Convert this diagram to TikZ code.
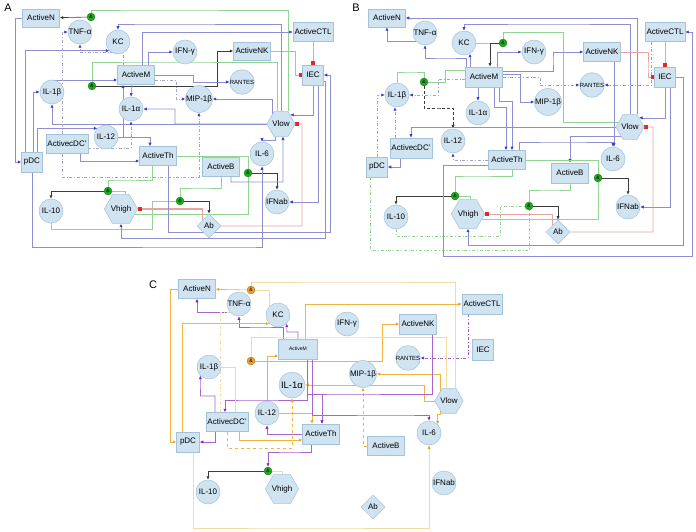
\documentclass[tikz,border=0pt]{standalone}
\usepackage{fontspec}
\setmainfont{Liberation Sans}
\usetikzlibrary{arrows.meta,shapes.geometric,calc,backgrounds}
\definecolor{nfill}{HTML}{CFE3F1}
\definecolor{nbord}{HTML}{A3C3DA}
\definecolor{lbl}{HTML}{8E8ED0}
\definecolor{abl}{HTML}{3A3AD8}
\definecolor{lgr}{HTML}{92D592}
\definecolor{agr}{HTML}{1DA81D}
\definecolor{lrd}{HTML}{E6A4A4}
\definecolor{ard}{HTML}{E02828}
\definecolor{lbk}{HTML}{3C3C3C}
\definecolor{ldd}{HTML}{A4A4C8}
\definecolor{lor}{HTML}{F2B441}
\definecolor{llo}{HTML}{F3D9A2}
\definecolor{aor}{HTML}{F0A020}
\definecolor{lpu}{HTML}{A664CF}
\definecolor{apu}{HTML}{8A22C8}
\definecolor{andor}{HTML}{E8A030}
\begin{document}
\begin{tikzpicture}[x=1pt,y=-1pt,font=\fontsize{8}{9}\selectfont,
 every node/.style={inner sep=0pt},
 box/.style={rectangle,fill=nfill,draw=nbord,line width=0.5pt,minimum width=37,minimum height=18,inner xsep=1.5pt},
 sbox/.style={box,minimum width=21,minimum height=20},
 circ/.style={circle,fill=nfill,draw=nbord,line width=0.5pt,minimum size=24},
 hexa/.style={regular polygon,regular polygon sides=6,fill=nfill,draw=nbord,line width=0.5pt,minimum size=28},
 diam/.style={diamond,fill=nfill,draw=nbord,line width=0.5pt,minimum width=24,minimum height=24},
 andg/.style={circle,fill=agr,draw=agr!70!black,line width=0.3pt,minimum size=8,font=\fontsize{5}{5}\selectfont},
 ando/.style={andg,fill=andor,draw=andor!70!black},
 lab/.style={font=\fontsize{11}{12}\selectfont},
 tipb/.style={-{Latex[length=3.5pt,width=3.2pt,color=abl]}},
 bl/.style={draw=lbl,line width=0.6pt,tipb},
 dd/.style={draw=ldd,line width=0.6pt,dash dot,tipb},
 gr/.style={draw=lgr,line width=0.6pt},
 gdd/.style={gr,dash dot},
 rd/.style={draw=lrd,line width=0.7pt,-{Square[length=3.6pt,width=3.6pt,color=ard]}},
 bk/.style={draw=lbk,line width=0.6pt,-{Latex[length=3.5pt,width=3.2pt,color=lbk]}},
 bkd/.style={bk,densely dashed},
 or/.style={draw=lor,line width=0.6pt,-{Latex[length=3.5pt,width=3.2pt,color=aor]}},
 ord/.style={or,dashed},
 lo/.style={draw=llo,line width=0.6pt},
 loa/.style={lo,-{Latex[length=3.5pt,width=3.2pt,color=aor]}},
 lodd/.style={lo,dash dot},
 pu/.style={draw=lpu,line width=0.6pt,-{Latex[length=3.5pt,width=3.2pt,color=apu]}},
 pdd/.style={pu,dash dot}]
\useasboundingbox (0,0) rectangle (696,532);
% ---------------- Panel A nodes
\node[lab] (labA) at (8,8) {A};
\node[box] (aN) at (41,18) {ActiveN};
\node[andg] (aand1) at (91,17) {\&};
\node[circ] (aTNF) at (80,32) {TNF-α};
\node[circ] (aKC) at (118,42) {KC};
\node[circ] (aIFNg) at (185,52) {IFN-γ};
\node[box] (aNK) at (252,51) {ActiveNK};
\node[box,minimum height=19] (aCTL) at (313,32) {ActiveCTL};
\node[sbox] (aIEC) at (313,75) {IEC};
\node[circ,font=\fontsize{6}{6}\selectfont] (aRAN) at (242,82) {RANTES};
\node[circ] (aMIP) at (199,99) {MIP-1β};
\node[hexa] (aVlow) at (281,124) {Vlow};
\node[box,minimum height=19] (aM) at (136,75) {ActiveM};
\node[andg] (aand2) at (92,86) {\&};
\node[circ] (aIL1b) at (52,92) {IL-1β};
\node[circ] (aIL1a) at (131,109) {IL-1α};
\node[circ] (aIL12) at (106,137) {IL-12};
\node[box,minimum height=19] (acDC) at (67,144) {ActivecDC'};
\node[sbox] (apDC) at (32,162) {pDC};
\node[box,minimum height=19] (aTh) at (158,156) {ActiveTh};
\node[andg] (aand3) at (108,191) {\&};
\node[circ] (aIL10) at (51,211) {IL-10};
\node[hexa] (aVh) at (121,209) {Vhigh};
\node[box,minimum height=19] (aB) at (221,167) {ActiveB};
\node[andg] (aand4) at (248,173) {\&};
\node[circ] (aIL6) at (262,154) {IL-6};
\node[andg] (aand5) at (180,201) {\&};
\node[circ] (aIFNab) at (277,202) {IFNab};
\node[diam] (aAb) at (209,226) {Ab};
% ---------------- Panel B nodes
\node[lab] (labB) at (356,8) {B};
\node[box] (bN) at (387,18) {ActiveN};
\node[circ] (bTNF) at (425,33) {TNF-α};
\node[circ] (bKC) at (464,43) {KC};
\node[andg] (bandK) at (503,43) {\&};
\node[circ] (bIFNg) at (534,52) {IFN-γ};
\node[box,minimum height=19] (bNK) at (602,52) {ActiveNK};
\node[box,minimum height=19] (bCTL) at (665,32) {ActiveCTL};
\node[sbox] (bIEC) at (665,77) {IEC};
\node[circ,font=\fontsize{6}{6}\selectfont] (bRAN) at (592,85) {RANTES};
\node[circ] (bMIP) at (548,102) {MIP-1β};
\node[hexa] (bVlow) at (630,127) {Vlow};
\node[box,minimum height=20] (bM) at (484,77) {ActiveM};
\node[andg] (bandL) at (424,82) {\&};
\node[circ] (bIL1b) at (397,95) {IL-1β};
\node[circ] (bIL1a) at (478,113) {IL-1α};
\node[circ] (bIL12) at (453,141) {IL-12};
\node[box,minimum height=20] (bcDC) at (411,148) {ActivecDC'};
\node[sbox] (bpDC) at (377,167) {pDC};
\node[box,minimum height=19] (bTh) at (507,160) {ActiveTh};
\node[andg] (bandV) at (455,196) {\&};
\node[circ] (bIL10) at (396,217) {IL-10};
\node[hexa] (bVh) at (468,214) {Vhigh};
\node[box,minimum height=20] (bB) at (570,173) {ActiveB};
\node[andg] (bandB) at (598,178) {\&};
\node[circ] (bIL6) at (613,159) {IL-6};
\node[circ] (bIFNab) at (628,207) {IFNab};
\node[andg] (bandAb) at (529,206) {\&};
\node[diam] (bAb) at (558,232) {Ab};
% ---------------- Panel C nodes
\node[lab] (labC) at (153,285) {C};
\node[box,minimum height=19] (cN) at (197,289) {ActiveN};
\node[ando] (cand1) at (251,290) {\&};
\node[circ] (cTNF) at (239,304) {TNF-α};
\node[circ] (cKC) at (278,315) {KC};
\node[circ] (cIFNg) at (347,324) {IFN-γ};
\node[box,minimum width=39,minimum height=20,font=\fontsize{5}{6}\selectfont] (cM) at (298,349) {ActiveM};
\node[ando] (cand2) at (251,361) {\&};
\node[circ] (cIL1b) at (209,367) {IL-1β};
\node[circ,minimum size=26,font=\fontsize{9.5}{10}\selectfont] (cIL1a) at (292,385) {IL-1α};
\node[box,minimum height=20] (cCTL) at (482,304) {ActiveCTL};
\node[box,minimum height=20] (cNK) at (418,324) {ActiveNK};
\node[sbox,minimum height=21] (cIEC) at (483,350) {IEC};
\node[circ,font=\fontsize{6}{6}\selectfont] (cRAN) at (408,358) {RANTES};
\node[circ] (cMIP) at (363,374) {MIP-1β};
\node[hexa] (cVlow) at (449,401) {Vlow};
\node[circ] (cIL6) at (429,433) {IL-6};
\node[box,minimum height=19] (cB) at (386,446) {ActiveB};
\node[circ] (cIFNab) at (444,483) {IFNab};
\node[diam] (cAb) at (373,507) {Ab};
\node[circ] (cIL12) at (267,413) {IL-12};
\node[box,minimum height=19] (cDC) at (227,422) {ActivecDC'};
\node[sbox,minimum width=23] (cpDC) at (188,442) {pDC};
\node[box,minimum height=20] (cTh) at (321,434) {ActiveTh};
\node[andg] (cand3) at (268,471) {\&};
\node[circ] (cIL10) at (208,492) {IL-10};
\node[hexa] (cVh) at (282,489) {Vhigh};
\begin{scope}[on background layer]
\fill[white] (0,0) rectangle (696,532);
% ================= Panel A edges
\draw[bk] (aand1) -- (aN);
\draw[bk] (aand2.east) -- (217,86) |- (aNK);
\draw[bk] (aand3.west) -| (aIL10);
\draw[bk] (aand5.east) -| (aAb);
\draw[bk] (aand4.east) -| (aIFNab);
\draw[gr] ($(aVlow.north)+(7,0)$) |- (150,10) -| (aand1);
\draw[gr] ($(aVlow.north)+(-4,0)$) |- (150,62) -| (aand2);
\draw[gr] ($(aTh.south)+(-6,0)$) |- (120,180) -| (aand3);
\draw[gr] (aand3.east) -| ($(aVh.north)+(4,0)$);
\draw[gr] (aIL10.south) |- (152,229) |- (aand5);
\draw[gr] (aB.south) |- (200,188) -| (aand5);
\draw[gr] ($(aVh.east)+(-3,5)$) -| (aand4);
\draw[gr] (aTh.east) -| (aand4);
\draw[rd] (aNK.east) -- (295,51) |- (aIEC.west);
\draw[rd] (aCTL.south) -- (aIEC.north);
\draw[rd] (aAb.east) -| (302,124) -- (aVlow.east);
\draw[rd,line width=1.2pt] (aAb.north west) |- (aVh.east);
\draw[bl] (aVlow.north) |- (150,24) -| (aKC);
\draw[bl] ($(aM.north)+(6,0)$) |- (aCTL);
\draw[bl] ($(aM.north)+(12,0)$) |- (aIFNg);
\draw[bl] ($(apDC.north)+(-7,0)$) |- (aKC.south west);
\draw[bl] (aN.west) -- (15,18) |- (apDC);
\draw[bl] (apDC.south) |- (250,247) -| (aIL6);
\draw[bl] ($(aIEC.east)+(0,6)$) -| (325,238) -| (aVh);
\draw[bl] (aIEC.south) |- (aVlow.north east);
\draw[bl] ($(aIEC.south)+(5,0)$) |- (aIFNab);
\draw[bl] (aVlow.north west) |- (aMIP);
\draw[bl] (aM.east) -- (193,75) |- (aRAN);
\draw[dd] ($(aM.east)+(0,5)$) -- (176,80) |- (aMIP);
\draw[bl] (aVlow.west) -- (175,124) |- (aIL1a);
\draw[bl] (aVlow.west) -| (aIL1b);
\draw[bl] ($(aM.south)+(-4,0)$) -- ($(aIL1a.north)+(0,0)$);
\draw[bl] (aIL12.east) -| ($(aM.south)+(-13,0)$);
\draw[bl] ($(apDC.north)+(1,0)$) |- (aIL1b);
\draw[bl] ($(apDC.north)+(5,0)$) |- (aIL12.north west);
\draw[bl] (aIL12.east) -| ($(aTh.north)+(-8,0)$);
\draw[bl] ($(acDC.south)+(13,0)$) |- ($(aTh.west)+(0,5)$);
\draw[bl] ($(aTh.south)+(10,0)$) |- (330,232) |- (aIEC.east);
\draw[bl] ($(aVlow.south)+(-6,0)$) -- ++(0,4) -| (aIL6);
\draw[bl] ($(aB.south)+(10,0)$) |- (283,182) -- ($(aVlow.south)+(2,0)$);
\draw[bl] (aIL1b) |- ($(aM.west)+(0,5)$);
\draw[dd] ($(aM.north)+(-13,0)$) |- (100,52) -| (aTNF);
\draw[dd] ($(acDC.north)+(-5,0)$) |- (aTNF.west);
\draw[dd] ($(acDC.south)+(-5,0)$) |- (150,177) -| (aMIP);
\draw[dd] ($(acDC.east)+(0,4)$) -| (aIL1a);
% ================= Panel B edges
\draw[bl] (bTNF.south west) -| (bN);
\draw[bl] ($(bVlow.north)+(7,0)$) |- (bN.east);
\draw[bl] (bVlow.north) |- (550,24) -| (bKC);
\draw[gr] (bKC) -- (bandK);
\draw[gr] ($(bVlow.west)+(3,-5)$) -| (563,32) -| (bandK);
\draw[bk] (bandK.west) -| ($(bM.north)+(6,0)$);
\draw[bl] ($(bM.north)+(13,0)$) |- (bIFNg);
\draw[bl] ($(bM.north)+(-14,0)$) -- ($(bKC.south)+(6,-1.5)$);
\draw[bl] ($(bM.north)+(-18,0)$) |- (445,58) -| (bTNF);
\draw[gr] (bIL1b) |- (410,72) -| (bandL);
\draw[gr] (bandL.east) -| (445,70) -- ($(bM.west)+(0,-7)$);
\draw[bkd] (bandL.south) |- (440,108) -| (bIL12);
\draw[dd] ($(bM.west)+(0,2)$) -- (438,79) |- (bIL1b);
\draw[bl] ($(bM.south)+(-6,0)$) -- (bIL1a.north);
\draw[dd] (bTh.west) -| (bIL12);
\draw[bl] (bVlow.west) -| (bcDC);
\draw[bl] (bVlow.south west) -| (bB);
\draw[bl] ($(bcDC.south)+(-11,0)$) |- (bpDC);
\draw[dd] (bpDC.north) |- (bIL1b);
\draw[dd] ($(bcDC.north)+(-16,0)$) -- ($(bIL1b.south)+(-2,0)$);
\draw[gdd] ($(bpDC.south)+(-7,0)$) |- (500,250) -| (bandAb);
\draw[gr] ($(bTh.south)+(5,0)$) |- (470,176) -| (bandV);
\draw[gr] (bandV.east) -| ($(bVh.north)+(2,0)$);
\draw[bk] (bandV.west) -| (bIL10);
\draw[gdd] (bIL10.south) |- (500,236) |- (bandAb);
\draw[rd] (bAb.north west) |- (bVh.east);
\draw[rd] (bAb.east) -| (653,127) -- (bVlow.east);
\draw[gr] (bTh.east) -| (bandB);
\draw[gr] ($(bVh.east)+(-3,5)$) -| (bandB);
\draw[bk] (bandB.east) -| (bIFNab);
\draw[gr] (bB.south) |- (550,190) -| (bandAb);
\draw[bk] (bandAb.east) -| (bAb);
\draw[bl] ($(bM.south)+(10,0)$) -- ++(0,20) -| ($(bTh.north)+(-1,0)$);
\draw[bl] ($(bM.south)+(15,0)$) -- ++(0,14) -| ($(bTh.north)+(5,0)$);
\draw[bl] ($(bTh.north)+(12,0)$) |- (560,142) -| (bIL6);
\draw[bl] ($(bIEC.south)+(5,0)$) |- (bIFNab);
\draw[bl] (bIEC.south) |- (bVlow.north east);
\draw[bl] ($(bTh.west)+(0,5)$) -- (443,165) -- (443,256) -- (692,256) |- (bCTL.east);
\draw[bl] (bIEC.east) -| (683,245) -| (bVh);
\draw[dd] ($(bCTL.south)+(-14,0)$) |- (bRAN);
\draw[dd] (bM.east) -- (540,77) |- (bRAN);
\draw[bl] ($(bM.east)+(0,-3)$) -- (520,74) |- (bMIP);
\draw[bl] ($(bM.east)+(0,-6)$) -| (553,60) |- (bNK);
\draw[rd] (bNK.east) -| (648,70) |- (bIEC.west);
\draw[rd] (bCTL.south) -- (bIEC.north);
\draw[bl] ($(bNK.south)+(12,0)$) -- ($(bIL6.north)+(1,0)$);
% ================= Panel C edges
\draw[or] (cand1) -- (cN);
\draw[lo] ($(cVlow.north)+(6,0)$) |- (350,282) -| (cand1);
\draw[lo] (cand1.east) -| (cKC.north west);
\draw[pu] (cTNF.south west) -| (cN);
\draw[pu] ($(cM.north)+(-15,0)$) |- (260,327) -| (cTNF);
\draw[pu] (cM.north) |- (287,332) -- (cKC.south east);
\draw[or] ($(cpDC.north)+(-6,0)$) |- (cKC.south west);
\draw[or] ($(cM.north)+(7,0)$) |- (cCTL);
\draw[or] (cand2.east) -- (382,361) |- (cNK);
\draw[or] (cIL12.north) |- ($(cM.west)+(0,7)$);
\draw[lo] ($(cVlow.north)+(-3,0)$) |- (300,337) -| (cand2);
\draw[or] (cVlow.west) -- ++(-10,0) |- (cIL1a);
\draw[or] (cVlow.north west) |- (cMIP);
\draw[ord] (cB.west) -| (cMIP);
\draw[pdd] ($(cCTL.south)+(-14,0)$) |- (cRAN);
\draw[pu] ($(cNK.south)+(14,0)$) |- (330,394) -| ($(cTh.north)+(1,0)$);
\draw[pu] ($(cM.south)+(9,0)$) -- ++(0,35) -| ($(cTh.north)+(1,0)$);
\draw[pu] ($(cM.south)+(9,0)$) |- (250,400) -| ($(cDC.north)+(-2,0)$);
\draw[pu] ($(cDC.south)+(-12,0)$) |- (cpDC);
\draw[pu] ($(cDC.north)+(-12,0)$) |- (200.5,396) -- (cIL1b.south west);
\draw[pu] (cTh.west) -| (cIL12);
\draw[or] (cIL12.east) -| ($(cTh.north)+(-9,0)$);
\draw[or] ($(cDC.south)+(12,0)$) |- ($(cTh.west)+(0,6)$);
\draw[or] (cN.west) -- ++(-8,0) |- (cpDC);
\draw[loa] ($(cpDC.south)+(5,0)$) |- (300,528) -| (cIL6);
\draw[or] (cVlow.south west) -- ++(0,4) -| (cIL6.north east);
\draw[pu] ($(cM.south)+(14,0)$) |- (400,415) -| (cIL6);
\draw[pu] ($(cTh.south)+(-10,0)$) |- (290,452) -| (cand3);
\draw[lo] (cand3.east) -| (cVh);
\draw[bk] (cand3.west) -| (cIL10);
\draw[lo] (cIL1b.east) -| ($(cDC.north)+(8,0)$);
\draw[lodd] ($(cDC.north)+(-7,0)$) |- (cTNF.south west);
\draw[ord] (cDC.south) |- (260,448) -| (cIL1a);
\end{scope}
\end{tikzpicture}
\end{document}
